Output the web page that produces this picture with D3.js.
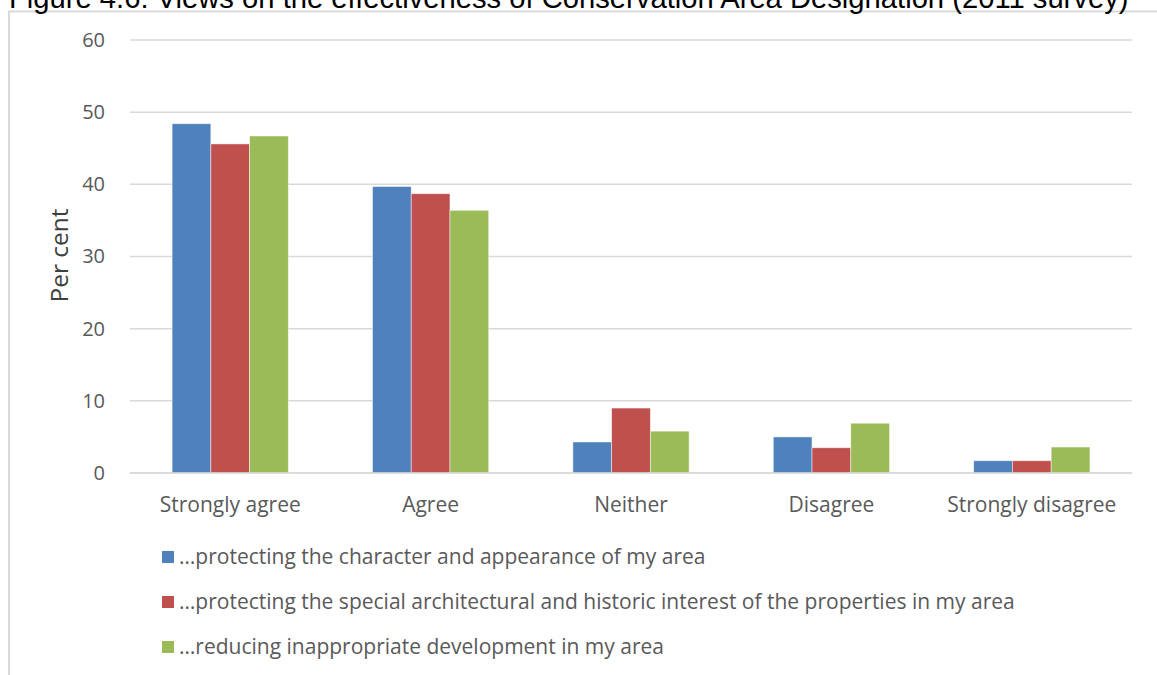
<!DOCTYPE html>
<html><head><meta charset="utf-8">
<script src="https://cdn.jsdelivr.net/npm/d3@7"></script>
<style>html,body{margin:0;padding:0;background:#fff;overflow:hidden}</style>
</head><body>
<script>
const categories = ["Strongly agree", "Agree", "Neither", "Disagree", "Strongly disagree"];
const seriesNames = [
  "…protecting the character and appearance of my area",
  "…protecting the special architectural and historic interest of the properties in my area",
  "…reducing inappropriate development in my area"
];
const seriesColors = ["#4f81bd", "#c0504d", "#9bbb59"];
const characterValues = [48.4, 39.7, 4.3, 5.0, 1.7];
const architecturalValues = [45.6, 38.7, 9.0, 3.5, 1.7];
const developmentValues = [46.7, 36.4, 5.8, 6.9, 3.6];
const yTicks = [0, 10, 20, 30, 40, 50, 60];
const titleText = "Figure 4.6: Views on the effectiveness of Conservation Area Designation (2011 survey)";
const yLabel = "Per cent";

const series = [characterValues, architecturalValues, developmentValues];
const W = 1157, H = 675;
const svg = d3.select("body").append("svg").attr("width", W).attr("height", H);
const font = "'Open Sans', 'Noto Sans', sans-serif";

// chart frame
svg.append("rect").attr("x", 9).attr("y", 11.5).attr("width", 1160).attr("height", 700)
  .attr("fill", "#fff").attr("stroke", "#d9d9d9").attr("stroke-width", 2);

// title (clipped at top)
svg.append("text").attr("x", 9).attr("y", 7.5).text(titleText)
  .attr("font-family", "'Liberation Sans', Arial, sans-serif").attr("font-size", 29.2).attr("fill", "#000");

const x0 = d3.scaleBand().domain(categories).range([130, 1132]).paddingInner(0.42).paddingOuter(0.21);
const x1 = d3.scaleBand().domain(d3.range(3)).range([0, x0.bandwidth()]);
const y = d3.scaleLinear().domain([0, 60]).range([473, 40]);

// gridlines
svg.append("g").selectAll("line").data(yTicks).join("line")
  .attr("x1", 130).attr("x2", 1132).attr("y1", d => y(d)).attr("y2", d => y(d))
  .attr("stroke", "#d9d9d9").attr("stroke-width", 1.5);

// y axis labels
const yAxis = d3.axisLeft(y).tickValues(yTicks).tickSize(0).tickPadding(0);
const ga = svg.append("g").attr("transform", "translate(105,0)").call(yAxis);
ga.select(".domain").remove();
ga.selectAll("text").attr("font-family", font).attr("font-size", 20).attr("fill", "#595959");

svg.append("text").attr("transform", `translate(68,${y(30) - 1}) rotate(-90)`).attr("text-anchor", "middle")
  .attr("font-family", font).attr("font-size", 24.5).attr("fill", "#404040").text(yLabel);

// bars
const groups = svg.append("g").selectAll("g").data(categories).join("g")
  .attr("transform", d => `translate(${x0(d)},0)`);
groups.selectAll("rect").data((c, i) => series.map((s, k) => ({k, v: s[i]}))).join("rect")
  .attr("x", d => x1(d.k)).attr("width", x1.bandwidth())
  .attr("y", d => y(d.v)).attr("height", d => y(0) - y(d.v))
  .attr("fill", d => seriesColors[d.k]).attr("stroke", "#fff").attr("stroke-width", 0.8).attr("stroke-opacity", 0.6);

// baseline
svg.append("line").attr("x1", 130).attr("x2", 1132).attr("y1", y(0)).attr("y2", y(0))
  .attr("stroke", "#d9d9d9").attr("stroke-width", 1.5);

// x axis
const xAxis = d3.axisBottom(x0).tickSize(0).tickPadding(0);
const gx = svg.append("g").attr("transform", `translate(0,${y(0)})`).call(xAxis);
gx.select(".domain").remove();
gx.selectAll("text").attr("font-family", font).attr("font-size", 21).attr("fill", "#595959")
  .attr("dy", null).attr("y", 39);

// legend
const legY = d3.scalePoint().domain(d3.range(3)).range([557, 647]);
const leg = svg.append("g").selectAll("g").data(seriesNames).join("g")
  .attr("transform", (d, i) => `translate(162,${legY(i)})`);
leg.append("rect").attr("x", 0).attr("y", -6).attr("width", 12).attr("height", 12)
  .attr("fill", (d, i) => seriesColors[i]);
leg.append("text").attr("x", 17).attr("y", 0).attr("dy", "0.35em").text(d => d)
  .attr("font-family", font).attr("font-size", 21).attr("fill", "#595959");
</script>
</body></html>
